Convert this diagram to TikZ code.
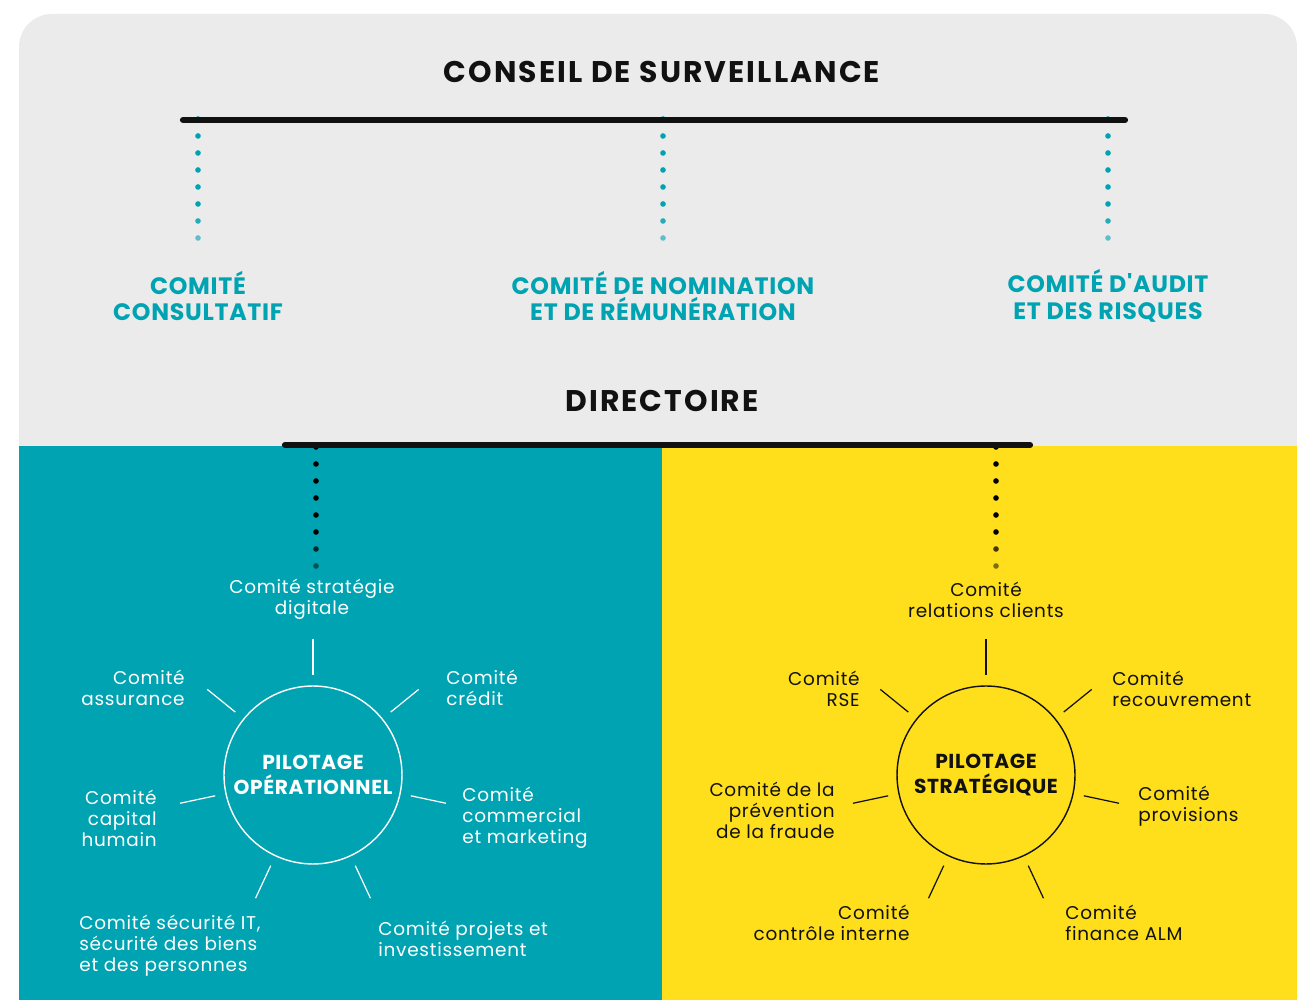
\documentclass[tikz,border=0pt]{standalone}
\usepackage{fontspec}
\setmainfont{Poppins}[LetterSpace=4]
\newfontfamily\titrefont{Poppins}[LetterSpace=7]
\newfontfamily\comitefont{Poppins}[LetterSpace=3]
\newfontfamily\pilotefont{Poppins}[LetterSpace=3]
\definecolor{fondgris}{HTML}{EBEBEB}
\definecolor{bleuop}{HTML}{00A3B2}
\definecolor{jaunestrat}{HTML}{FFDE1C}
\definecolor{encre}{HTML}{111111}

\tikzset{
  titre/.style={inner sep=0pt, text=encre, font=\titrefont\fontsize{17}{20}\selectfont\bfseries},
  comiteconseil/.style={inner sep=0pt, align=center, text=bleuop, font=\comitefont\fontsize{13.5}{15.3}\selectfont\bfseries},
  pilote/.style={circle, draw, line width=0.8pt, minimum size=3.56cm, inner sep=0pt, align=center, font=\pilotefont\fontsize{11.5}{14}\selectfont\bfseries},
  comite/.style={inner sep=0pt, font=\fontsize{10.5}{12}\selectfont},
  rayon/.style={line width=0.7pt},
  barre/.style={line width=3.5pt, line cap=round, encre},
}

\begin{document}
\begin{tikzpicture}[x=0.02cm, y=0.02cm]
  \useasboundingbox (0,0) rectangle (1297,1000);

  % fonds
  \fill[fondgris, rounded corners=0.66cm] (19,400) rectangle (1297,986);
  \fill[bleuop] (19,0) rectangle (662,554);
  \fill[jaunestrat] (662,0) rectangle (1297,554);

  % conseil de surveillance
  \node[titre] (conseil) at (662,928) {CONSEIL DE SURVEILLANCE};
  \foreach \x in {198,663,1108}
    \foreach \y/\op in {881/1,864/1,847/1,830/1,813/1,796/1,779/0.85,762/0.6}
      \fill[bleuop, opacity=\op] (\x,\y) circle (1.6pt);
  \draw[barre] (183,880) -- (1125,880);

  \node[comiteconseil] (consultatif) at (198,704) {COMITÉ\\CONSULTATIF};
  \node[comiteconseil] (nomination) at (663,704) {COMITÉ DE NOMINATION\\ET DE RÉMUNÉRATION};
  \node[comiteconseil] (audit) at (1108,704) {COMITÉ D'AUDIT\\ET DES RISQUES};

  % directoire
  \node[titre] (directoire) at (662,599) {DIRECTOIRE};
  \foreach \x in {316,996}
    \foreach \y/\op in {553/1,536/1,519/1,502/1,485/1,468/1,451/0.75,434/0.5}
      \fill[black, opacity=\op] (\x,\y) circle (1.6pt);
  \draw[barre] (285,555) -- (1030,555);

  % pilotage operationnel
  \node[pilote, draw=white, text=white] (opera) at (313,225) {PILOTAGE\\OPÉRATIONNEL};
  \foreach \a in {90,39,141,192,348,245,295}
    \draw[rayon, white] (opera.center) ++(\a:100) -- ++(\a:36);

  \begin{scope}[every node/.style={comite, text=white}]
    \node[align=center] (digitale) at (312,401) {Comité stratégie\\digitale};
    \node[anchor=east, align=right] (assurance) at (185,312) {Comité\\assurance};
    \node[anchor=west, align=left] (credit) at (446,312) {Comité\\crédit};
    \node[anchor=east, align=right] (humain) at (157,182) {Comité\\capital\\humain};
    \node[anchor=west, align=left] (marketing) at (462,182) {Comité\\commercial\\et marketing};
    \node[anchor=west, align=left] (securite) at (79,54) {Comité sécurité IT,\\sécurité des biens\\et des personnes};
    \node[anchor=west, align=left] (projets) at (378,61) {Comité projets et\\investissement};
  \end{scope}

  % pilotage strategique
  \node[pilote, draw=encre, text=encre] (strat) at (986,225) {PILOTAGE\\STRATÉGIQUE};
  \foreach \a in {90,39,141,192,348,245,295}
    \draw[rayon, encre] (strat.center) ++(\a:100) -- ++(\a:36);

  \begin{scope}[every node/.style={comite, text=encre}]
    \node[align=center] (clients) at (986,400) {Comité\\relations clients};
    \node[anchor=east, align=right] (rse) at (860,311) {Comité\\RSE};
    \node[anchor=west, align=left] (recouvrement) at (1112,311) {Comité\\recouvrement};
    \node[anchor=east, align=right] (fraude) at (835,190) {Comité de la\\prévention\\de la fraude};
    \node[anchor=west, align=left] (provisions) at (1138,194) {Comité\\provisions};
    \node[anchor=east, align=right] (controle) at (910,77) {Comité\\contrôle interne};
    \node[anchor=west, align=left] (alm) at (1065,77) {Comité\\finance ALM};
  \end{scope}
\end{tikzpicture}
\end{document}
